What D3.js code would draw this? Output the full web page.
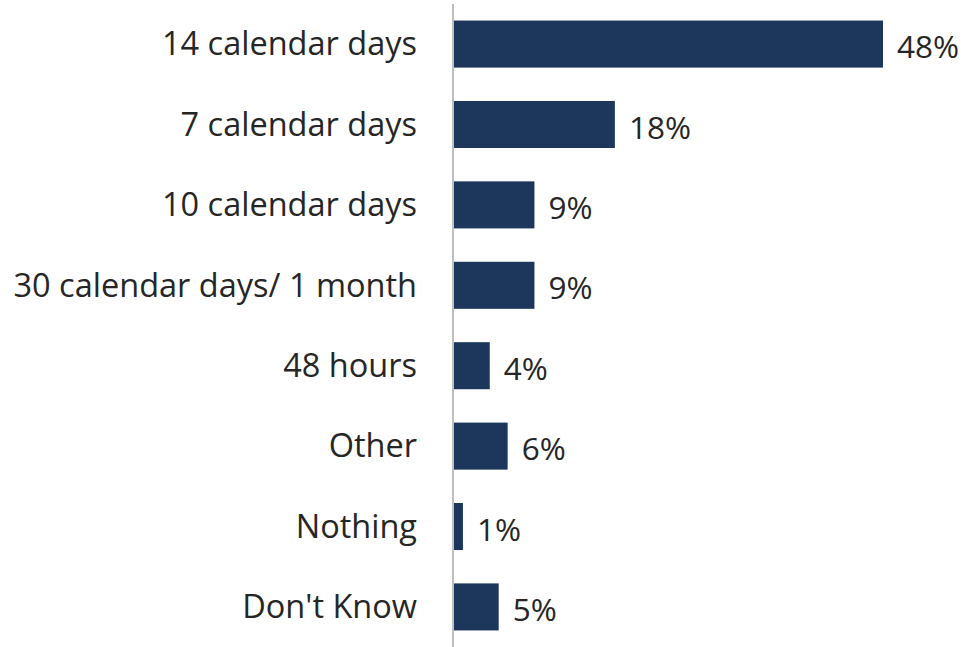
<!DOCTYPE html>
<html><head><meta charset="utf-8">
<script src="https://cdn.jsdelivr.net/npm/d3@7"></script>
<style>body{margin:0;background:#fff}svg{display:block}</style>
</head><body>
<svg id="c" width="967" height="647"></svg>
<script>
const categories = ["14 calendar days","7 calendar days","10 calendar days","30 calendar days/ 1 month","48 hours","Other","Nothing","Don't Know"];
const values = [48,18,9,9,4,6,1,5];
const valueLabels = ["48%","18%","9%","9%","4%","6%","1%","5%"];

const svg = d3.select("#c");
const x0 = 454;
const x = d3.scaleLinear().domain([0,48]).range([x0, 883]);
const y = d3.scaleBand().domain(categories).range([4,647]).paddingInner(0.415).paddingOuter(0.206);
const font = "'Open Sans', sans-serif";

svg.selectAll("rect.bar").data(categories).join("rect")
  .attr("class","bar")
  .attr("x", x(0))
  .attr("y", d=>y(d))
  .attr("width", (d,i)=>x(values[i])-x(0))
  .attr("height", y.bandwidth())
  .attr("fill","#1c365c");

svg.append("line").attr("x1",x0-1).attr("x2",x0-1).attr("y1",4).attr("y2",647)
  .attr("stroke","#bfbfbf").attr("stroke-width",2);

svg.selectAll("text.cat").data(categories).join("text")
  .attr("class","cat")
  .attr("x", 417)
  .attr("y", d=>y(d)+y.bandwidth()/2)
  .attr("dy","0.35em")
  .attr("text-anchor","end")
  .attr("font-family",font).attr("font-size",32.5).attr("fill","#262626")
  .text(d=>d);

svg.selectAll("text.val").data(categories).join("text")
  .attr("class","val")
  .attr("x", (d,i)=>x(values[i])+14)
  .attr("y", d=>y(d)+y.bandwidth()/2 + 3)
  .attr("dy","0.35em")
  .attr("font-family",font).attr("font-size",31.5).attr("fill","#262626")
  .text((d,i)=>valueLabels[i]);
</script>
</body></html>
